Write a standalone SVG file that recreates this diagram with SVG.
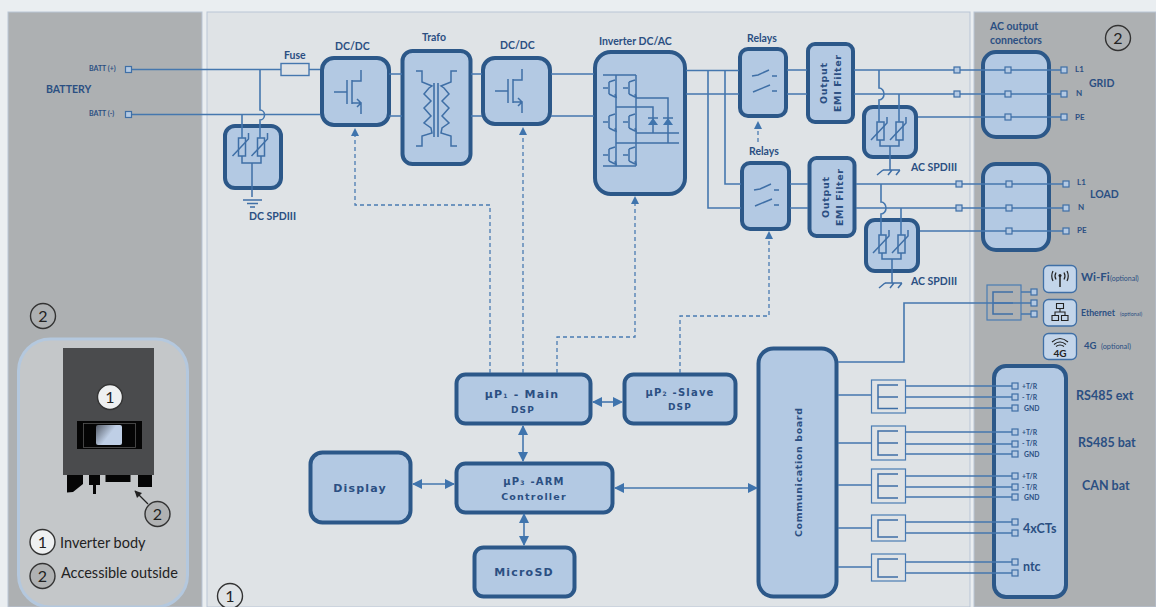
<svg xmlns="http://www.w3.org/2000/svg" xmlns:xlink="http://www.w3.org/1999/xlink" width="1156" height="607" viewBox="0 0 1156 607">
<style>
.box{fill:#b3c9e3;stroke:#2c5889;stroke-width:4}
.thinbox{fill:none;stroke:#4a7cb3;stroke-width:1.2}
.ln{fill:none;stroke:#4577ae;stroke-width:1.6}
.sym{fill:none;stroke:#3f6fa6;stroke-width:1.5}
.dash{fill:none;stroke:#4a7cb3;stroke-width:1.3;stroke-dasharray:4 3}
.sq{fill:#b3c9e3;stroke:#3f6fa6;stroke-width:1.2}
.lbl{font-family:Lato,"Liberation Sans",sans-serif;font-weight:700;fill:#2b4f82}
.opt{font-family:Lato,"Liberation Sans",sans-serif;font-weight:400;fill:#2b4f82}
.box-t{font-family:"DejaVu Sans","Liberation Sans",sans-serif;font-weight:700;fill:#2b4f82;text-anchor:middle;letter-spacing:1.2px}
.emi{letter-spacing:0}
.blk{font-family:Lato,"Liberation Sans",sans-serif;fill:#222;text-anchor:middle}
.leg{text-anchor:start}
.circ{stroke:#333;stroke-width:1.4;fill:none}
.arr{fill:#3f74ad}
</style>
<defs>
<marker id="ah" markerUnits="userSpaceOnUse" markerWidth="12" markerHeight="12" refX="9" refY="5" orient="auto-start-reverse"><path class="arr" d="M0,0L10,5L0,10Z"/></marker>
<linearGradient id="scr" x1="0" y1="0" x2="1" y2="0.6"><stop offset="0" stop-color="#555c68"/><stop offset="0.6" stop-color="#bfcfe6"/></linearGradient>
<g id="mos"><path class="sym" d="M-19,0H-6M-6,-12V12M-1,-12V12M-1,-11H8V-22M-1,11H8V22M2,11L8,11M4,7L8,11L4,15"/></g>
<g id="mini"><path class="sym" d="M-9,0H-4M-3,-6V6M-3,-6L3,-8M-3,6L3,9M1,8L4,9L3,6" stroke-width="1.6"/></g>
<g id="relay"><path class="sym" d="M0,0L6,-1L17,-6M20,0H25M1,16L18,9M20,15H25" stroke-width="1.4"/></g>
<g id="var"><rect class="sym" x="-3" y="0" width="7" height="18"/><path class="sym" d="M-9,18L7,1V-5"/></g>
<g id="diode"><path class="arr" d="M-5,7H5L0,0Z"/><path class="sym" d="M-5,0H5"/></g>
<g id="earth"><path class="sym" d="M-6,0H11M-6,0L-12,5M3,0L-1,5M11,0L7,5"/></g>
</defs>

<rect width="1156" height="607" fill="#eaeef1"/>
<rect x="8" y="12" width="194" height="595" fill="#adb0b2" stroke="#b9c5d6"/>
<rect x="207" y="12" width="763" height="595" fill="#dfe3e6" stroke="#b9c5d6"/>
<rect x="974" y="12" width="182" height="595" fill="#adb0b2" stroke="#b9c5d6"/>

<g id="battery-labels">
<text class="lbl" x="46" y="93" font-size="10.500">BATTERY</text>
<text class="lbl" x="89" y="71" font-size="7">BATT (+)</text>
<text class="lbl" x="89" y="116" font-size="7">BATT (-)</text>
</g>

<g id="fuse"><rect x="281" y="63.500" width="28" height="12" fill="#dfe3e6" stroke="#4577ae" stroke-width="1.400"/><text class="lbl" x="284" y="59" font-size="10.500">Fuse</text></g>

<g id="dcdc1"><rect class="box" x="322" y="58" width="67" height="67" rx="12"/><use xlink:href="#mos" x="353" y="92"/><text class="lbl" x="335" y="50" font-size="10.500">DC/DC</text></g>

<g id="trafo"><rect class="box" x="402.500" y="51" width="68" height="113" rx="10"/>
<path class="sym" d="M416,71H422V82L432,86L429,88L424,94L431,101L424,108L431,116L424,123L431,128L432,133L422,136V146H416M457,71H451V82L441,86L444,88L449,94L442,101L449,108L442,116L449,123L442,128L441,133L451,136V146H457"/>
<path d="M434,83V137M438,83V137" stroke="#3f6fa6" stroke-width="1.600" fill="none"/>
<text class="lbl" x="422" y="41" font-size="10.500">Trafo</text></g>

<g id="dcdc2"><rect class="box" x="483" y="58" width="67" height="66" rx="12"/><use xlink:href="#mos" x="514" y="91"/><text class="lbl" x="500" y="49" font-size="10.500">DC/DC</text></g>

<g id="inverter"><rect class="box" x="595" y="52" width="90" height="142" rx="16"/>
<path class="sym" d="M603,75H636M603,166H636M616,75V166M636,75V166M616,107H653V133M636,98H668V143M636,133H679M616,143H679"/>
<use xlink:href="#mini" x="612" y="88"/><use xlink:href="#mini" x="632" y="88"/><use xlink:href="#mini" x="612" y="122"/><use xlink:href="#mini" x="632" y="122"/><use xlink:href="#mini" x="612" y="155"/><use xlink:href="#mini" x="632" y="155"/>
<use xlink:href="#diode" x="653" y="118"/><use xlink:href="#diode" x="668" y="118"/>
<text class="lbl" x="599" y="45" font-size="10.500">Inverter DC/AC</text></g>

<g id="relays1"><rect class="box" x="740" y="49" width="46" height="67" rx="8"/><use xlink:href="#relay" x="752" y="76"/><text class="lbl" x="747" y="42" font-size="10.500">Relays</text></g>
<g id="relays2"><rect class="box" x="742" y="163" width="47" height="66" rx="8"/><use xlink:href="#relay" x="754" y="190"/><text class="lbl" x="749" y="155" font-size="10.500">Relays</text></g>

<g id="emi1"><rect class="box" x="808" y="44" width="45" height="78" rx="7"/><text class="box-t emi" font-size="9.500" textLength="41" transform="translate(826.500,83.500) rotate(-90)">Output</text><text class="box-t emi" font-size="9.500" textLength="57" transform="translate(841,83.500) rotate(-90)">EMI Filter</text></g>
<g id="emi2"><rect class="box" x="809.500" y="158" width="45" height="78" rx="7"/><text class="box-t emi" font-size="9.500" textLength="41" transform="translate(828.500,197.500) rotate(-90)">Output</text><text class="box-t emi" font-size="9.500" textLength="57" transform="translate(843,197.500) rotate(-90)">EMI Filter</text></g>

<g id="dc-spd"><rect class="box" x="225" y="126" width="56" height="62" rx="10"/>
<use xlink:href="#var" x="241.500" y="138"/><use xlink:href="#var" x="260.500" y="138"/>
<path class="sym" d="M242,156V163H261V156M252,163V197M243,200H262M247,203.500H258M250,207H255"/>
<text class="lbl" x="249" y="220" font-size="10.500">DC SPDIII</text></g>

<g id="ac-spd1"><rect class="box" x="864" y="107" width="52" height="50" rx="9"/>
<use xlink:href="#var" x="880" y="122"/><use xlink:href="#var" x="899" y="122"/>
<path class="sym" d="M880,140V146H899V140M890,146V170"/><use xlink:href="#earth" x="889" y="170"/>
<text class="lbl" x="911" y="171" font-size="10.500">AC SPDIII</text></g>
<g id="ac-spd2"><rect class="box" x="866" y="220" width="52" height="51" rx="9"/>
<use xlink:href="#var" x="882" y="235"/><use xlink:href="#var" x="901" y="235"/>
<path class="sym" d="M882,253V259H901V253M892,259V283"/><use xlink:href="#earth" x="891" y="283"/>
<text class="lbl" x="911" y="285" font-size="10.500">AC SPDIII</text></g>

<g id="ac-conn-grid"><rect class="box" x="983" y="52" width="66" height="85" rx="13"/>
<text class="lbl" x="990" y="30" font-size="10.500">AC output</text><text class="lbl" x="990" y="44" font-size="10.500">connectors</text>
<text class="lbl" x="1075" y="72" font-size="8">L1</text><text class="lbl" x="1076" y="96" font-size="8">N</text><text class="lbl" x="1075" y="120" font-size="8">PE</text>
<text class="lbl" x="1089" y="87" font-size="10.500">GRID</text></g>
<g id="ac-conn-load"><rect class="box" x="983" y="164" width="66" height="86" rx="13"/>
<text class="lbl" x="1077" y="185" font-size="8">L1</text><text class="lbl" x="1078" y="210" font-size="8">N</text><text class="lbl" x="1077" y="233" font-size="8">PE</text>
<text class="lbl" x="1090" y="198" font-size="10.500">LOAD</text></g>

<g id="wifi"><rect x="1043.500" y="265.500" width="33" height="27" rx="5" fill="#c3d5ea" stroke="#3f6fa6" stroke-width="1.300"/>
<path d="M1060,276V287" stroke="#222" stroke-width="1.500" fill="none"/><circle cx="1060" cy="275.500" r="1.500" fill="#222"/>
<path d="M1056,272.500Q1054,276 1056,279.500M1064,272.500Q1066,276 1064,279.500M1053,271Q1050.500,276 1053,281M1067,271Q1069.500,276 1067,281" stroke="#222" stroke-width="1.200" fill="none"/>
<text class="lbl" x="1081" y="281" font-size="11.500">Wi-Fi</text><text class="opt" x="1110" y="281" font-size="7">(optional)</text></g>
<g id="ethernet"><rect x="1043.500" y="299.500" width="33" height="26.500" rx="5" fill="#c3d5ea" stroke="#3f6fa6" stroke-width="1.300"/>
<path d="M1056.500,303.500h7v5h-7zM1052,315.500h6.500v5h-6.500zM1061.500,315.500h6.500v5h-6.500zM1060,308.500V312M1055,315.500V312H1065V315.500" stroke="#222" stroke-width="1.100" fill="none"/>
<text class="lbl" x="1081" y="316" font-size="8.800">Ethernet</text><text class="opt" x="1120" y="316" font-size="5.400">(optional)</text></g>
<g id="g4"><rect x="1043.500" y="333.500" width="33" height="26" rx="5" fill="#c3d5ea" stroke="#3f6fa6" stroke-width="1.300"/>
<path d="M1052,342Q1060,335 1068,342M1054,344.500Q1060,339.500 1066,344.500M1056,346.500Q1060,343.500 1064,346.500" stroke="#222" stroke-width="1.200" fill="none"/>
<text x="1060" y="357" font-size="10" font-weight="700" font-family="Lato,'Liberation Sans',sans-serif" fill="#222" text-anchor="middle">4G</text>
<text class="lbl" x="1084" y="349" font-size="9.500">4G</text><text class="opt" x="1101" y="349" font-size="7.300">(optional)</text></g>

<g id="ext-conn"><rect class="box" x="994" y="366" width="72" height="231" rx="12"/>
<g class="lbl" font-size="6.800"><text x="1022" y="388.500">+T/R</text><text x="1022" y="400">- T/R</text><text x="1024" y="410.500">GND</text>
<text x="1022" y="434.500">+T/R</text><text x="1022" y="446">- T/R</text><text x="1024" y="456.500">GND</text>
<text x="1022" y="478.500">+T/R</text><text x="1022" y="490">- T/R</text><text x="1024" y="500">GND</text></g>
<text class="lbl" x="1023" y="533" font-size="12.500">4xCTs</text><text class="lbl" x="1023" y="571" font-size="12.500">ntc</text>
<text class="lbl" x="1076" y="400" font-size="12.500">RS485 ext</text><text class="lbl" x="1078" y="447" font-size="12.500">RS485 bat</text><text class="lbl" x="1082" y="490" font-size="12.500">CAN bat</text></g>

<g id="comm-board"><rect class="box" x="758.500" y="348.500" width="78" height="248" rx="15"/><text class="box-t emi" font-size="9.500" textLength="129" transform="translate(802,472.500) rotate(-90)">Communication board</text></g>

<g id="up1"><rect class="box" x="456.500" y="374.500" width="134" height="49" rx="9"/><text class="box-t" x="522" y="398" font-size="11">µP<tspan font-size="6">1</tspan> - Main</text><text class="box-t" x="523" y="413" font-size="9">DSP</text></g>
<g id="up2"><rect class="box" x="624.500" y="374.500" width="111" height="49" rx="9"/><text class="box-t" x="680" y="396" font-size="10">µP<tspan font-size="6">2</tspan> -Slave</text><text class="box-t" x="680" y="410" font-size="9">DSP</text></g>
<g id="up3"><rect class="box" x="456.500" y="463.500" width="156" height="49" rx="9"/><text class="box-t" x="534" y="485" font-size="10">µP<tspan font-size="6">3</tspan> -ARM</text><text class="box-t" x="534" y="500" font-size="9.500">Controller</text></g>
<g id="display"><rect class="box" x="310.500" y="452.500" width="100" height="70" rx="12"/><text class="box-t" x="360" y="492" font-size="11">Display</text></g>
<g id="microsd"><rect class="box" x="474.500" y="547.500" width="100" height="49" rx="9"/><text class="box-t" x="524" y="576" font-size="11">MicroSD</text></g>

<g id="split-wireless"><rect class="thinbox" x="987" y="285" width="34" height="35"/><path class="sym" d="M1013,292H993V314H1013M993,303H1013" stroke-width="1.200"/></g>
<g id="split1"><rect class="thinbox" x="871.500" y="380" width="34" height="33"/><path class="sym" d="M898,385H878V408.500H898M878,397H898"/></g>
<g id="split2"><rect class="thinbox" x="871.500" y="426" width="34" height="34"/><path class="sym" d="M898,431H878V455H898M878,443H898"/></g>
<g id="split3"><rect class="thinbox" x="871.500" y="469" width="34" height="34"/><path class="sym" d="M898,474H878V498H898M878,486H898"/></g>
<g id="split4"><rect class="thinbox" x="871.500" y="515" width="34" height="26"/><path class="sym" d="M898,520H878V537H898"/></g>
<g id="split5"><rect class="thinbox" x="871.500" y="554" width="34" height="27"/><path class="sym" d="M898,559H878V577H898"/></g>

<g id="inverter-unit">
<rect x="18.500" y="339" width="169" height="268" rx="32" fill="#c4c7c9" stroke="#b4c8de" stroke-width="3"/>
<rect x="63" y="348" width="91" height="127" fill="#4a4b4d"/>
<rect x="77" y="421" width="65" height="28" fill="#050505"/>
<rect x="83.500" y="423.500" width="52" height="24" fill="none" stroke="#555" stroke-width="0.800"/>
<rect x="96" y="425" width="26" height="20" rx="2" fill="url(#scr)"/>
<path d="M67,475H83V484L73,492L67,492.500Z" fill="#050505"/>
<path d="M89,475H100V485H96V494H93V485H89Z" fill="#050505"/>
<rect x="105.500" y="475" width="25" height="7" fill="#050505"/>
<rect x="138" y="475" width="14" height="12" fill="#050505"/>
<path d="M135,491L148,504" stroke="#222" stroke-width="1.300" fill="none"/><path d="M134.500,490.500L142,493L137,498Z" fill="#222"/>
<circle cx="110" cy="397" r="12.500" fill="#eef0f1" stroke="#333" stroke-width="1.400"/><text class="blk" x="110" y="403" font-size="16">1</text>
<circle cx="157.500" cy="514" r="12.500" fill="#b0b2b3" stroke="#333" stroke-width="1.400"/><text class="blk" x="157.500" y="520" font-size="16">2</text>
<circle cx="42.500" cy="542" r="12.500" fill="#eef0f1" stroke="#333" stroke-width="1.400"/><text class="blk" x="42.500" y="548" font-size="16">1</text>
<circle cx="42.500" cy="576" r="12.500" fill="#b0b2b3" stroke="#333" stroke-width="1.400"/><text class="blk" x="42.500" y="582" font-size="16">2</text>
<text class="blk leg" x="60" y="548" font-size="14.500">Inverter body</text>
<text class="blk leg" x="61" y="578" font-size="14.500">Accessible outside</text>
</g>
<g id="zone-markers">
<circle class="circ" cx="43" cy="316" r="12.500"/><text class="blk" x="43" y="322" font-size="16">2</text>
<circle class="circ" cx="230" cy="596" r="12.500"/><text class="blk" x="230" y="602" font-size="16">1</text>
<circle class="circ" cx="1118" cy="38" r="12.500"/><text class="blk" x="1118" y="44" font-size="16">2</text>
</g>

<g id="connectors">
<path class="ln" d="M128,69.500H281M309,69.500H320M128,114.500H320"/>
<path class="ln" d="M260,70V110A4.500,5 0 0 1 260,120V138M242,115V138"/>
<path class="ln" d="M389,74H402M389,116H402M471,74H482M471,116H482M551,74H594M551,116H594"/>
<path class="ln" d="M686,70.500H739M686,94H739M708,70.500V208H741M725,70.500V184H741"/>
<path class="ln" d="M787,70H807M787,94H807M790,184H808M790,208H808"/>
<path class="ln" d="M854,70H1064M854,94H1064M856,184H1066M856,208H1066M918,117H1064M920,231H1066"/>
<path class="ln" d="M879,70V88A5,6 0 0 1 879,100V122M899,94V122M881,184V202A5,6 0 0 1 881,214V235M901,208V235"/>
<path class="ln" d="M838,362H904V303H1034M1021,292H1034M1021,314H1034" stroke-width="1.200"/>
<path class="ln" d="M838,395H871M838,443H871M838,485H871M838,528H871M838,567H871"/>
<path class="ln" d="M905,386H1015M905,397H1015M905,408H1015M905,432H1015M905,444H1015M905,454H1015M905,476H1015M905,487H1015M905,497H1015M905,522H1015M905,533H1015M905,562H1015M905,573H1015"/>
<path class="dash" d="M490,373V205H355V136"/>
<path class="dash" d="M523,373V135"/>
<path class="dash" d="M557,373V337H635V204"/>
<path class="dash" d="M680,373V316H769V239"/>
<path class="dash" d="M758,142V129"/>
<path d="M355,128L351,136H359ZM523,127L519,135H527ZM635,196L631,204H639ZM769,231L765,239H773ZM758,121L754,129H762Z" class="arr"/>
<path class="ln" d="M593,402H622" marker-start="url(#ah)" marker-end="url(#ah)"/>
<path class="ln" d="M523,426V461" marker-start="url(#ah)" marker-end="url(#ah)"/>
<path class="ln" d="M413,484H454" marker-start="url(#ah)" marker-end="url(#ah)"/>
<path class="ln" d="M615,488H757" marker-start="url(#ah)" marker-end="url(#ah)"/>
<path class="ln" d="M524,514V545" marker-start="url(#ah)" marker-end="url(#ah)"/>
<g id="ports">
<rect class="sq" x="125.500" y="66.500" width="6" height="6"/><rect class="sq" x="125.500" y="111.500" width="6" height="6"/>
<rect class="sq" x="954" y="67" width="6" height="6"/><rect class="sq" x="954" y="91" width="6" height="6"/>
<rect class="sq" x="956" y="181" width="6" height="6"/><rect class="sq" x="956" y="205" width="6" height="6"/>
<rect class="sq" x="1005" y="67" width="6" height="6"/><rect class="sq" x="1005" y="91" width="6" height="6"/><rect class="sq" x="1005" y="114" width="6" height="6"/>
<rect class="sq" x="1061" y="67" width="6" height="6"/><rect class="sq" x="1061" y="91" width="6" height="6"/><rect class="sq" x="1061" y="114" width="6" height="6"/>
<rect class="sq" x="1006" y="181" width="6" height="6"/><rect class="sq" x="1006" y="205" width="6" height="6"/><rect class="sq" x="1006" y="228" width="6" height="6"/>
<rect class="sq" x="1063" y="181" width="6" height="6"/><rect class="sq" x="1063" y="205" width="6" height="6"/><rect class="sq" x="1063" y="228" width="6" height="6"/>
<rect class="sq" x="1031" y="289" width="6" height="6"/><rect class="sq" x="1031" y="300" width="6" height="6"/><rect class="sq" x="1031" y="311" width="6" height="6"/>
<rect class="sq" x="1012" y="383" width="6" height="6"/><rect class="sq" x="1012" y="394" width="6" height="6"/><rect class="sq" x="1012" y="405" width="6" height="6"/>
<rect class="sq" x="1012" y="429" width="6" height="6"/><rect class="sq" x="1012" y="441" width="6" height="6"/><rect class="sq" x="1012" y="451" width="6" height="6"/>
<rect class="sq" x="1012" y="473" width="6" height="6"/><rect class="sq" x="1012" y="484" width="6" height="6"/><rect class="sq" x="1012" y="494" width="6" height="6"/>
<rect class="sq" x="1012" y="519" width="6" height="6"/><rect class="sq" x="1012" y="530" width="6" height="6"/>
<rect class="sq" x="1012" y="559" width="6" height="6"/><rect class="sq" x="1012" y="570" width="6" height="6"/>
</g>
</g>
</svg>
